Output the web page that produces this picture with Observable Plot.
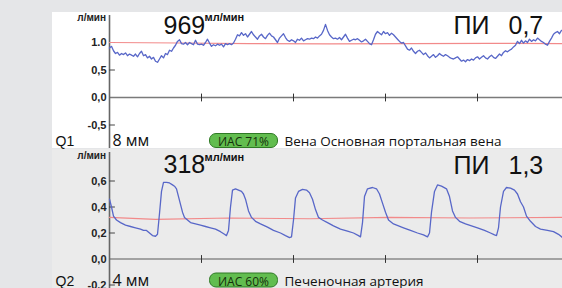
<!DOCTYPE html>
<html><head><meta charset="utf-8">
<script src="https://cdn.jsdelivr.net/npm/d3@7"></script>
<script src="https://cdn.jsdelivr.net/npm/@observablehq/plot@0.6"></script>
<style>
html,body{margin:0;padding:0;background:#e5e6e8;}
#wrap{position:relative;width:562px;height:288px;overflow:hidden;background:#e5e6e8;}
.panel{position:absolute;left:52px;}
.panel svg{display:block;overflow:visible;}
</style></head>
<body>
<div id="wrap"><div class="panel" id="p1" style="top:12px"></div><div class="panel" id="p2" style="top:149px"></div></div>
<script>
// ---------- data ----------
// time axis in samples (92 samples = 1 s); tick every second
const timeTicks = [92, 184, 276, 368];

// Q1 – portal vein
const q1YTicks = [-0.5, 0, 0.5, 1.0];
const q1YTickLabels = ["-0,5", "0,0", "0,5", "1.0"];
const q1SampleStep = 2;
const q1Flow = [
0.90,0.93,0.85,0.80,0.82,0.77,0.80,0.78,0.81,0.76,
0.79,0.77,0.75,0.79,0.74,0.80,0.84,0.76,0.78,0.72,
0.75,0.70,0.73,0.66,0.64,0.70,0.76,0.72,0.80,0.78,
0.86,0.84,0.90,0.95,1.02,1.05,0.98,0.97,1.00,0.96,
1.00,0.98,0.96,1.04,0.97,0.96,0.97,0.95,1.00,1.06,
0.99,0.93,0.96,0.94,0.97,0.95,0.97,0.92,0.98,0.96,
0.98,0.96,0.99,1.06,1.14,1.12,1.18,1.13,1.16,1.10,
1.15,1.20,1.14,1.10,1.06,1.12,1.15,1.10,1.07,1.13,
1.17,1.12,1.10,1.05,1.00,1.08,1.12,1.16,1.09,1.04,
1.02,1.05,1.03,1.00,1.06,1.04,1.08,1.03,1.05,1.07,
1.06,1.08,1.07,1.10,1.08,1.12,1.15,1.22,1.33,1.22,
1.14,1.10,1.07,1.08,1.06,1.09,1.05,1.10,1.15,1.08,
1.02,1.04,1.06,1.05,1.07,1.04,1.01,1.03,1.06,1.02,
0.98,0.96,1.05,1.15,1.20,1.17,1.14,1.20,1.16,1.18,
1.13,1.17,1.14,1.10,1.06,1.02,0.99,1.00,0.94,0.88,
0.86,0.90,0.84,0.80,0.84,0.86,0.82,0.78,0.81,0.76,
0.72,0.75,0.78,0.73,0.76,0.80,0.77,0.75,0.78,0.76,
0.73,0.71,0.70,0.72,0.74,0.70,0.66,0.68,0.65,0.69,
0.67,0.70,0.68,0.72,0.74,0.70,0.73,0.76,0.72,0.70,
0.74,0.77,0.73,0.71,0.75,0.79,0.76,0.82,0.85,0.83,
0.86,0.88,0.92,0.95,1.02,0.98,1.04,0.99,1.03,1.00,
1.06,1.02,1.05,1.03,1.08,1.05,1.02,1.00,0.97,0.95,
1.02,1.08,1.15,1.18,1.20,1.16,1.22
];
const q1MeanSample = [0, 70, 140, 220, 300, 380, 453];
const q1Mean = [1.00, 0.99, 0.98, 0.975, 0.98, 0.985, 0.98];

// Q2 – hepatic artery
const q2YTicks = [-0.2, 0, 0.2, 0.4, 0.6];
const q2YTickLabels = ["-0,2", "0,0", "0,2", "0,4", "0,6"];
const q2Sample = [
0,2,4,7,11,16,21,26,31,34,37,40,43,46,48,50,52,54,57,60,
63,65,67,69,71,73,75,78,81,86,91,96,101,106,111,115,117,119,121,123,
126,129,132,134,136,139,142,146,151,158,164,171,176,180,182,184,186,189,193,197,
200,203,206,209,213,218,224,231,238,244,249,251,253,255,258,263,267,270,273,276,
279,284,289,294,301,308,314,318,320,322,325,328,332,337,340,343,346,350,356,362,
368,375,381,385,387,389,391,394,397,401,405,408,411,414,417,421,426,431,438,444,
449,453];
const q2Flow = [
0.46,0.40,0.33,0.30,0.28,0.26,0.25,0.24,0.23,0.22,0.22,0.20,0.18,0.175,0.19,0.35,0.52,0.59,0.59,0.585,
0.57,0.56,0.54,0.48,0.42,0.36,0.32,0.30,0.28,0.27,0.26,0.25,0.24,0.23,0.21,0.19,0.18,0.22,0.40,0.53,
0.54,0.53,0.52,0.50,0.46,0.37,0.32,0.29,0.27,0.245,0.22,0.20,0.18,0.165,0.17,0.30,0.47,0.52,0.535,0.53,
0.51,0.46,0.38,0.32,0.30,0.28,0.255,0.23,0.215,0.20,0.18,0.17,0.28,0.48,0.54,0.55,0.54,0.50,0.43,0.36,
0.30,0.27,0.255,0.24,0.22,0.20,0.185,0.17,0.20,0.36,0.52,0.57,0.56,0.54,0.48,0.37,0.32,0.29,0.27,0.255,
0.24,0.22,0.20,0.185,0.18,0.24,0.40,0.52,0.55,0.545,0.53,0.50,0.44,0.40,0.33,0.29,0.25,0.23,0.22,0.21,
0.19,0.165];
const q2MeanSample = [0, 46, 120, 200, 280, 360, 453];
const q2Mean = [0.32, 0.305, 0.315, 0.31, 0.32, 0.315, 0.32];

// labels
const unitLabel = "л/мин";
const flowUnit = "мл/мин";
const piLabel = "ПИ";
const q1Text = {flow: "969", pi: "0,7", q: "Q1", size: "8 мм", iac: "ИАС 71%", vessel: "Вена Основная портальная вена"};
const q2Text = {flow: "318", pi: "1,3", q: "Q2", size: "4 мм", iac: "ИАС 60%", vessel: "Печеночная артерия"};

// ---------- drawing ----------
const SANS = "'Liberation Sans', Arial, sans-serif";
const OPEN = "'Open Sans', sans-serif";
const BLUE = "#5867c8";
const RED = "#f28a8a";
const tickShape = {draw(context, l) { context.moveTo(0, 0); context.lineTo(0, -l); }};

function label(text, o) {
  return Plot.text([text], {
    frameAnchor: "top-left", text: d => d, lineAnchor: "bottom",
    textAnchor: o.anchor || "start", dx: o.dx, dy: o.dy,
    fontSize: o.size, fontFamily: o.font || SANS, fontWeight: o.weight || "normal",
    fill: o.fill || "#111"
  });
}

function panel(cfg) {
  const flowData = cfg.flowY.map((v, i) => ({s: cfg.flowX[i], v}));
  const meanData = cfg.meanY.map((v, i) => ({s: cfg.meanX[i], v}));
  const L = cfg.layout, T = cfg.text;
  return Plot.plot({
    width: 510, height: cfg.height,
    marginLeft: 57, marginRight: 0, marginTop: 0, marginBottom: 0,
    x: {domain: [0, 453], axis: null},
    y: {domain: cfg.yDomain, label: null},
    style: {background: cfg.bg, overflow: "visible"},
    marks: [
      Plot.ruleY([0], {stroke: cfg.zeroColor, strokeWidth: 1.5}),
      Plot.vector(timeTicks, {x: d => d, y: () => 0, length: 7, rotate: 0, anchor: "middle", shape: tickShape, stroke: "#333", strokeWidth: 1}),
      Plot.ruleX([0], {stroke: "#666", strokeWidth: 1.6, insetTop: 3}),
      Plot.vector(cfg.ticks.filter(d => d !== 0), {x: () => 0, y: d => d, length: 5, rotate: 90, anchor: "start", shape: tickShape, stroke: "#444", strokeWidth: 1}),
      Plot.axisY(cfg.ticks, {anchor: "left", tickSize: 0, tickPadding: 3, label: null,
        tickFormat: d => cfg.tickLabels[cfg.ticks.indexOf(d)],
        fontSize: 11, fontWeight: "bold", fontFamily: SANS, fill: "#222"}),
      Plot.line(meanData, {x: "s", y: "v", stroke: RED, strokeWidth: 1.1}),
      Plot.line(flowData, {x: "s", y: "v", stroke: BLUE, strokeWidth: 1.3}),
      label(unitLabel, {dx: -3.5, dy: L.unit, size: 10, weight: "bold", anchor: "end", fill: "#222"}),
      label(T.flow, {dx: 54, dy: L.big, size: 25}),
      label(flowUnit, {dx: 95, dy: L.sup, size: 11, weight: "bold"}),
      label(piLabel, {dx: 344, dy: L.pi, size: 25}),
      label(T.pi, {dx: 399, dy: L.pi, size: 25}),
      label(T.q, {dx: -54, dy: L.cap, size: 14}),
      label(T.size, {dx: 3, dy: L.cap, size: 16, font: OPEN}),
      label(T.iac, {dx: 134, dy: L.badge, size: 12, font: OPEN, anchor: "middle", fill: "#15300c"}),
      label(T.vessel, {dx: 175, dy: L.cap - 0.5, size: 13.5, font: OPEN})
    ]
  });
}

const svg1 = panel({
  height: 136, yDomain: [-51 / 55, 85 / 55], bg: "#ffffff", zeroColor: "#7a7a7a",
  ticks: q1YTicks, tickLabels: q1YTickLabels,
  flowX: q1Flow.map((_, i) => i * q1SampleStep), flowY: q1Flow,
  meanX: q1MeanSample, meanY: q1Mean,
  layout: {unit: 8, big: 21, sup: 8.5, pi: 21, cap: 133.5, badge: 133.5},
  text: q1Text
});
const svg2 = panel({
  height: 139, yDomain: [-29.5 / 130, 109.5 / 130], bg: "#ebebeb", zeroColor: "#8a8a8a",
  ticks: q2YTicks, tickLabels: q2YTickLabels,
  flowX: q2Sample, flowY: q2Flow,
  meanX: q2MeanSample, meanY: q2Mean,
  layout: {unit: 9, big: 23, sup: 11.5, pi: 24, cap: 136.5, badge: 136},
  text: q2Text
});
document.getElementById("p1").appendChild(svg1);
document.getElementById("p2").appendChild(svg2);

// rounded green badges behind the "ИАС" labels
const NS = "http://www.w3.org/2000/svg";
for (const svg of [svg1, svg2]) {
  svg.querySelectorAll("text").forEach(t => {
    if (!t.textContent.startsWith("ИАС")) return;
    const r = document.createElementNS(NS, "rect");
    r.setAttribute("x", -34); r.setAttribute("y", -12.5);
    r.setAttribute("width", 68); r.setAttribute("height", 14);
    r.setAttribute("rx", 6.5);
    r.setAttribute("fill", "#62bd4f"); r.setAttribute("stroke", "#2f7a25"); r.setAttribute("stroke-width", 1);
    const tr = t.getAttribute("transform"); if (tr) r.setAttribute("transform", tr);
    if (t.getAttribute("x")) r.setAttribute("x", +t.getAttribute("x") - 34);
    t.parentNode.insertBefore(r, t);
  });
}
</script>
</body></html>
